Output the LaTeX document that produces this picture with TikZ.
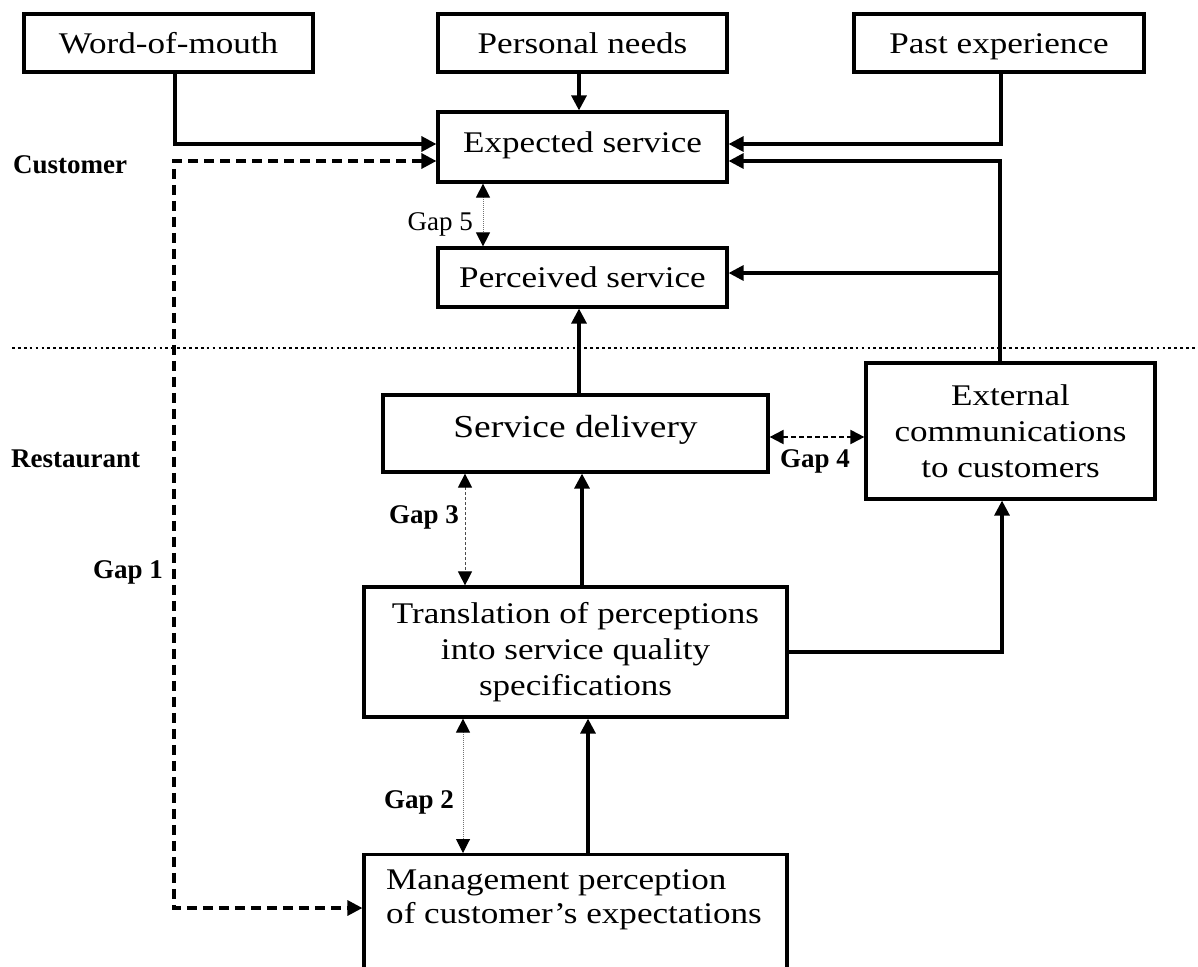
\documentclass[tikz,border=0pt]{standalone}
\usepackage{fontspec}
\setmainfont{Liberation Serif}
\newfontfamily\boxfont{Liberation Serif}[FakeStretch=1.17]
\usetikzlibrary{arrows.meta,calc}
\tikzset{
  box/.style={draw, line width=3.2pt, inner sep=0pt, align=center,
    font=\boxfont\fontsize{30pt}{36pt}\selectfont},
  onebox/.style={box, text height=24pt, text depth=4pt},
  conn/.style={line width=3.2pt, -{Triangle[length=15pt,width=15pt]}},
  gaphead/.style={{Triangle[length=14pt,width=14pt,color=black]}-{Triangle[length=14pt,width=14pt,color=black]}},
  gapdot/.style={gaphead, line width=1pt, draw=black!55, dash pattern=on 1pt off 1pt},
  gapdash/.style={gaphead, line width=1pt, draw=black!70, dash pattern=on 3pt off 2pt},
  gapfour/.style={gaphead, line width=2pt, draw=black, dash pattern=on 5pt off 3pt},
  gapone/.style={line width=3.2pt, dash pattern=on 10pt off 6pt,
    {Triangle[length=15pt,width=15pt]}-{Triangle[length=15pt,width=15pt]}},
  sepline/.style={line width=2.7pt, dash pattern=on 2.7pt off 3.2pt},
  gaplbl/.style={inner sep=0pt, font=\bfseries\fontsize{27pt}{30pt}\selectfont},
  gaplblreg/.style={inner sep=0pt, font=\fontsize{27pt}{30pt}\selectfont},
  sidelbl/.style={inner sep=0pt, font=\bfseries\fontsize{27pt}{30pt}\selectfont},
}
\begin{document}
\begin{tikzpicture}[x=1pt,y=-1pt]
\useasboundingbox (0,0) rectangle (1198,966);
\clip (0,0) rectangle (1198,966);

% separator
\coordinate (sepL) at (12,348);
\coordinate (sepR) at (1198,348);
\draw[sepline] (sepL) -- (sepR);

% boxes
\node[onebox, minimum width=289pt, minimum height=58pt] (wom) at (168.5,43) {Word-of-mouth};
\node[onebox, minimum width=289pt, minimum height=58pt] (pn) at (582.5,43) {Personal needs};
\node[onebox, minimum width=290pt, minimum height=58pt] (pe) at (999,43) {Past experience};
\node[onebox, minimum width=289pt, minimum height=70pt, text height=18pt, text depth=8pt] (es) at (582.5,147) {Expected service};
\node[onebox, minimum width=289pt, minimum height=59pt] (ps) at (582.5,277.5) {Perceived service};
\node[onebox, minimum width=385pt, minimum height=77pt, text height=17pt, text depth=10pt,
      font=\boxfont\fontsize{32pt}{36pt}\selectfont] (sd) at (575.5,433.5) {Service delivery};
\node[box, minimum width=289pt, minimum height=136pt] (ec) at (1010.5,431)
  {External\\communications\\to customers};
\node[box, minimum width=423pt, minimum height=130pt] (tr) at (575.5,652)
  {Translation of perceptions\\into service quality\\specifications};
\node[box, minimum width=423pt, minimum height=200pt, anchor=north] (mg) at (575.5,853) {};
\node[inner sep=0pt, anchor=north west, align=left,
      font=\boxfont\fontsize{30pt}{34pt}\selectfont] (mgt) at (386,869)
  {Management perception\\of customer’s expectations};

% side labels
\node[sidelbl, anchor=base west] (cust) at (13,173) {Customer};
\node[sidelbl, anchor=base west] (rest) at (11,467) {Restaurant};

% helper coordinates
\coordinate (x579) at (579,0);
\coordinate (x582) at (582,0);
\coordinate (x588) at (588,0);
\coordinate (x1002) at (1002,0);
\coordinate (x483) at (483,0);
\coordinate (x465) at (465,0);
\coordinate (x463) at (463,0);
\coordinate (y437) at (0,437);
\coordinate (br) at (1000,273);
\coordinate (g1) at (174,908);

% solid connectors
\draw[conn] ([xshift=6.5pt]wom.south) |- ([yshift=3pt]es.west);
\draw[conn] (pn.south -| x579) -- (es.north -| x579);
\draw[conn] ([xshift=2pt]pe.south) |- ([yshift=3pt]es.east);
\draw[conn] ([xshift=-10.5pt]ec.north) |- ([yshift=-14pt]es.east);
\draw[conn] (br) -- (ps.east |- br);
\draw[conn] (sd.north -| x579) -- (ps.south -| x579);
\draw[conn] (tr.north -| x582) -- (sd.south -| x582);
\draw[conn] (mg.north -| x588) -- (tr.south -| x588);
\draw[conn] (tr.east) -| (ec.south -| x1002);

% gap connectors
\draw[gapdot] (es.south -| x483) -- (ps.north -| x483);
\draw[gapdash] (sd.south -| x465) -- (tr.north -| x465);
\draw[gapdot] (tr.south -| x463) -- (mg.north -| x463);
\draw[gapfour] (sd.east |- y437) -- (ec.west |- y437);
\draw[gapone] ([yshift=-14pt]es.west) -| (g1) -- (mg.west |- g1);

% gap labels
\node[gaplblreg, anchor=base east] (gap5) at (473,230) {Gap 5};
\node[gaplbl, anchor=base east] (gap3) at (459,523) {Gap 3};
\node[gaplbl, anchor=base east] (gap2) at (454,808) {Gap 2};
\node[gaplbl, anchor=base east] (gap1) at (163,578) {Gap 1};
\node[gaplbl, anchor=base] (gap4) at (815,467) {Gap 4};
\end{tikzpicture}
\end{document}
